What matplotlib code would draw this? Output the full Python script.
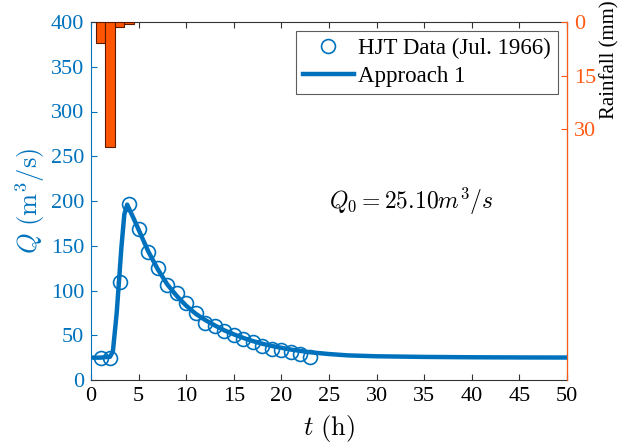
import matplotlib
matplotlib.use("Agg")
import matplotlib.pyplot as plt

plt.rcParams['font.family'] = ['Liberation Serif', 'DejaVu Serif']
plt.rcParams['mathtext.fontset'] = 'cm'

BLUE = '#0072BD'
ORANGE = '#FF5A14'

# Observed discharge (HJT Data, Jul. 1966)
obs_t = [1, 2, 3, 4, 5, 6, 7, 8, 9, 10, 11, 12, 13, 14, 15, 16, 17, 18, 19, 20, 21, 22, 23]
obs_q = [25, 25, 110, 197, 169, 143, 125, 106, 97, 86, 75, 64, 60, 55, 50, 46, 42, 38, 35, 33, 31, 29, 26]

# Approach 1 model curve
mod_t = [0, 1, 2, 2.3, 2.7, 3.2, 3.5, 3.8, 4.5, 5, 6, 7, 8, 9, 10, 11, 12, 13, 14, 15, 16, 17, 18,
         19, 20, 21, 22, 23, 24, 25, 27, 30, 35, 40, 45, 50]
mod_q = [25, 25, 26, 32, 75, 149, 185, 196, 180, 168, 144, 124, 107, 94, 83, 74, 67, 61, 55.5, 51,
         47, 43.5, 40.5, 38, 36, 34, 32.5, 31, 30, 29, 27.5, 26.5, 25.8, 25.4, 25.2, 25.1]

# Rainfall
rain_t = [1, 2, 3, 4]
rain_mm = [5.9, 35, 1.5, 0.6]

fig = plt.figure(figsize=(6.24, 4.45), dpi=100)
ax = fig.add_axes([91/624, 65/445, 476/624, 358/445])

ax.plot(mod_t, mod_q, color=BLUE, lw=3.2, label='Approach 1', zorder=3)
ax.plot(obs_t, obs_q, 'o', ms=10, mfc='none', mec=BLUE, mew=1.2,
        label='HJT Data (Jul. 1966)', zorder=4)

ax.set_xlim(0, 50)
ax.set_ylim(0, 400)
ax.set_xticks(range(0, 51, 5))
ax.set_yticks(range(0, 401, 50))
ax.tick_params(axis='both', direction='in', labelsize=16, length=4, top=True, pad=5)
ax.tick_params(axis='y', colors=BLUE)
ax.tick_params(axis='x', colors='#333333', labelcolor='black')
ax.spines['left'].set_color(BLUE)
ax.spines['top'].set_color('#333333')
ax.spines['bottom'].set_color('#333333')
for s in ax.spines.values():
    s.set_linewidth(0.8)

ax.set_xlabel(r'$t\ \mathrm{(h)}$', fontsize=19, labelpad=5)
ax.set_ylabel(r'$Q\ \mathrm{(m^3/s)}$', fontsize=19, color=BLUE, labelpad=3)

ax.text(25.0, 200, r'$Q_0 = 25.10m^3/s$', fontsize=17, va='center', ha='left')

h, l = ax.get_legend_handles_labels()
leg = ax.legend(h[::-1], l[::-1], loc='upper right', fontsize=16.5, frameon=True,
                fancybox=False, edgecolor='#333333', borderpad=0.3, handlelength=2.2,
                handletextpad=0.2, labelspacing=0.3, borderaxespad=0.4)
leg.get_frame().set_linewidth(0.8)

ax2 = ax.twinx()
ax2.bar(rain_t, rain_mm, width=1.0, color='#FF5500', edgecolor='#5a1a00', linewidth=0.8)
ax2.set_ylim(100, 0)
ax2.set_yticks([0, 15, 30])
ax2.tick_params(axis='y', direction='in', colors=ORANGE, labelsize=16, length=4, pad=5)
ax2.spines['right'].set_color(ORANGE)
ax2.spines['left'].set_visible(False)
ax2.spines['top'].set_visible(False)
ax2.spines['bottom'].set_visible(False)
ax2.set_ylabel('Rainfall (mm)', fontsize=15, color='black')
ax2.yaxis.set_label_coords(1.069, 0.895)

fig.savefig('out.png', dpi=100)
